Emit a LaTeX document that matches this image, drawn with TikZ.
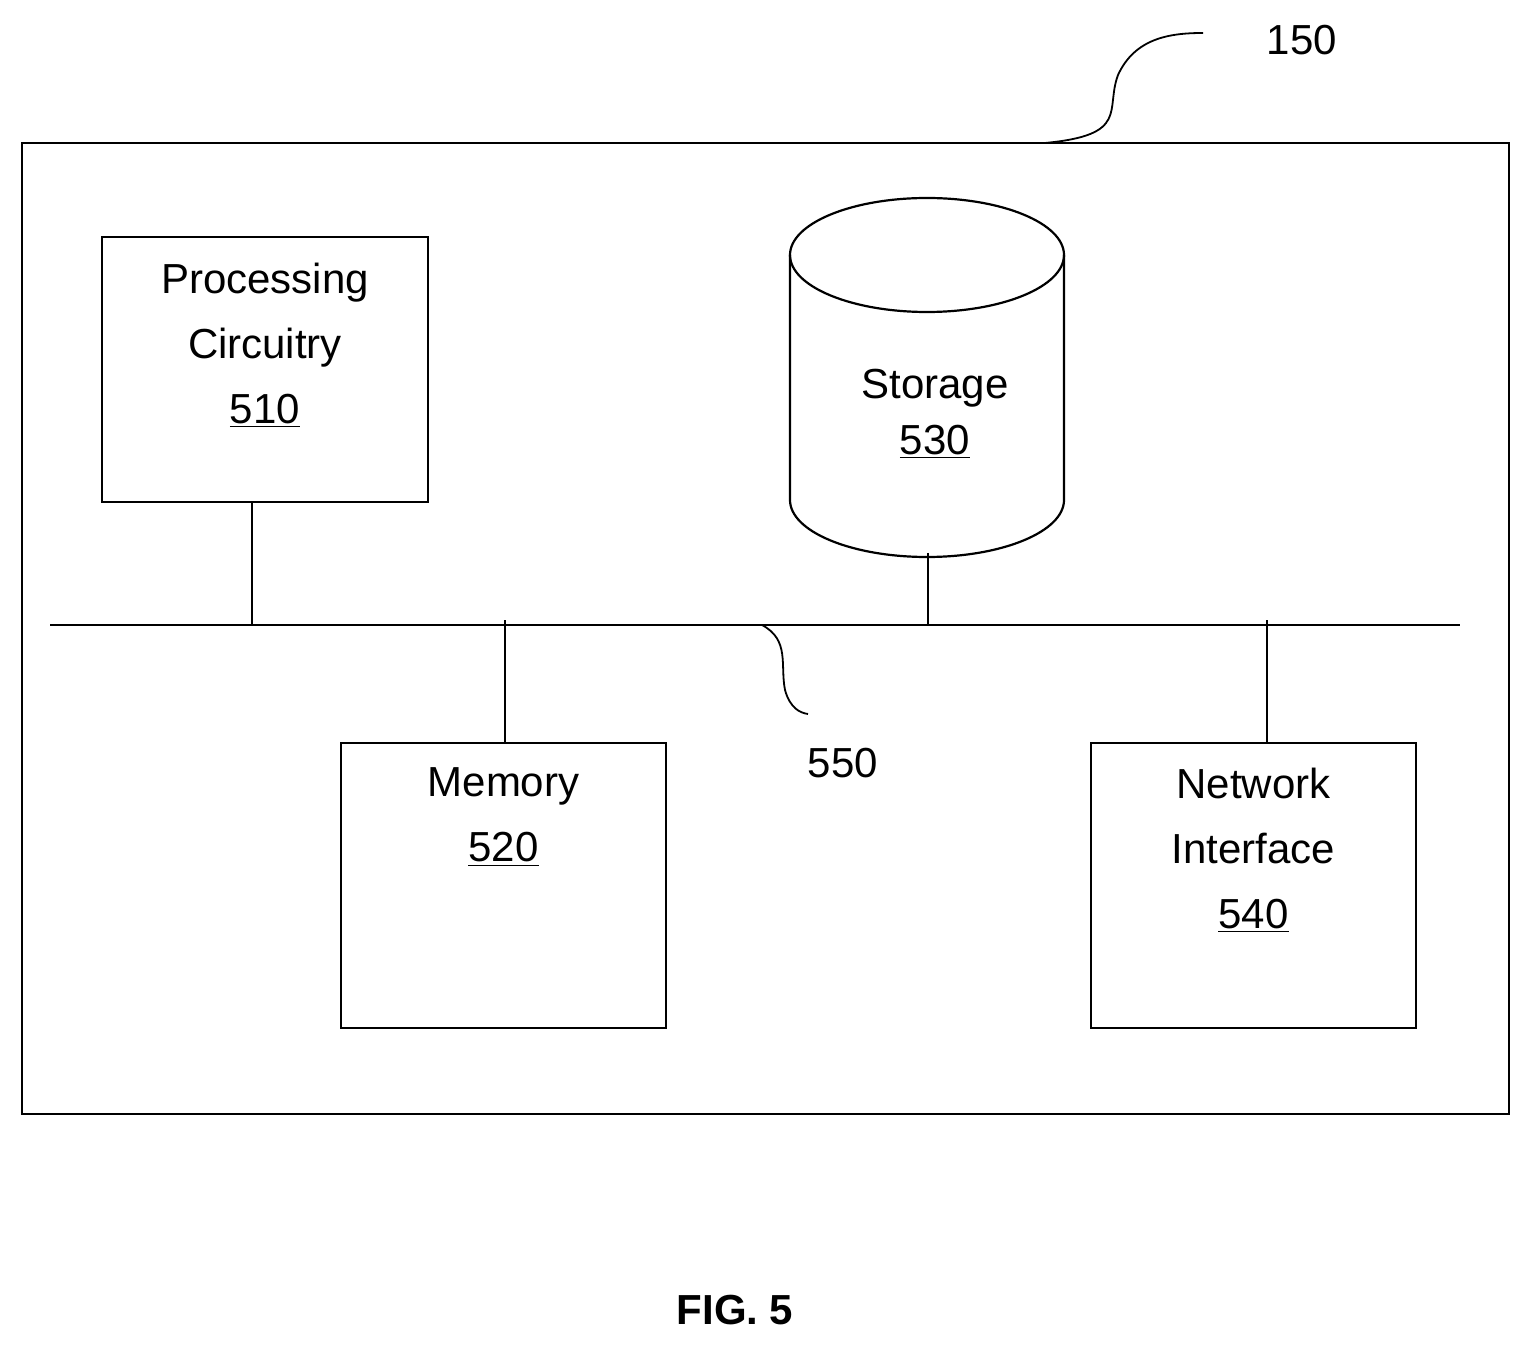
\documentclass[tikz,border=0pt]{standalone}
\usepackage{fontspec}
\setmainfont{Liberation Sans}
\begin{document}
\begin{tikzpicture}[x=0.5pt,y=-0.5pt,line width=1.1pt,
  box/.style={draw,line width=1.1pt,inner sep=0pt},
  lbl/.style={font=\fontsize{21}{32.5}\selectfont,align=center,inner sep=0pt}]
\useasboundingbox (0,0) rectangle (1531,1347);
\node[box,minimum width=743.5pt,minimum height=485.5pt] (outer) at (765.5,628.5) {};
\node[box,minimum width=163pt,minimum height=132.5pt] (p) at (265,369.5) {};
\node[box,minimum width=162.5pt,minimum height=142.5pt] (m) at (503.5,885.5) {};
\node[box,minimum width=162.5pt,minimum height=142.5pt] (n) at (1253.5,885.5) {};
\node[lbl,anchor=north] at (265,262) {Processing\\Circuitry\\\underline{510}};
\node[lbl,anchor=north] at (503.5,767) {Memory\\\underline{520}};
\node[lbl,anchor=north] at (1253.5,767) {Network\\Interface\\\underline{540}};
% cylinder
\draw (790,255) -- (790,500) arc[start angle=180,end angle=360,x radius=137,y radius=-57] -- (1064,255);
\draw (927,255) ellipse [x radius=137,y radius=57];
\coordinate (s) at (928,553);
\node[lbl,font=\fontsize{21}{28}\selectfont] at (935,414) {Storage\\\underline{530}};
% bus
\coordinate (b1) at (50,625); \coordinate (b2) at (1460,625);
\draw (b1) -- (b2);
\coordinate (pb) at (252,502); \coordinate (pbb) at (252,625);
\coordinate (mb) at (505,620); \coordinate (sb) at (928,625);
\coordinate (nb) at (1267,620);
\draw (pb) -- (pbb);
\draw (mb) -- (505,743);
\draw (s) -- (sb);
\draw (nb) -- (1267,743);
% labels
\node[lbl] (l150) at (1302,40) {150};
\node[lbl] (l550) at (843,763) {550};
\coordinate (o1) at (1045,143);
\draw[line width=0.9pt] (o1) .. controls (1130,135) and (1105,110) .. (1118,75) .. controls (1135,38) and (1170,33) .. (1203,33);
\coordinate (u1) at (762,625);
\draw[line width=0.9pt] (u1) .. controls (790,640) and (780,665) .. (785,690) .. controls (790,708) and (800,713) .. (808,714);
\node[font=\fontsize{21}{25}\selectfont\bfseries] (fig) at (735,1310) {FIG. 5};
\end{tikzpicture}
\end{document}
